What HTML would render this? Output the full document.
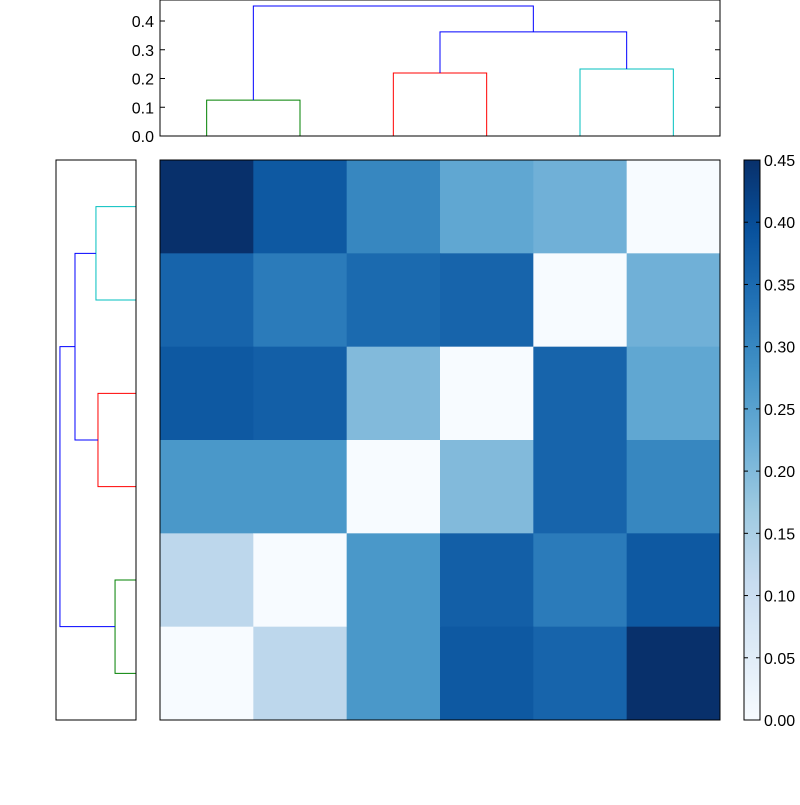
<!DOCTYPE html>
<html><head><meta charset="utf-8"><style>
body{margin:0;background:#fff}
svg text{font-family:"Liberation Sans",sans-serif;font-size:16px;fill:#000}
</style></head><body>
<svg id="c" width="800" height="800" xmlns="http://www.w3.org/2000/svg"></svg>
<script>
const matrix=[
[0.45,0.38,0.30,0.24,0.22,0.0],
[0.36,0.32,0.35,0.36,0.0,0.22],
[0.38,0.37,0.20,0.0,0.36,0.24],
[0.27,0.27,0.0,0.20,0.36,0.30],
[0.125,0.0,0.27,0.37,0.32,0.38],
[0.0,0.125,0.27,0.38,0.36,0.45]];
const topLinks=[[0,1,0,0,0.125,'#008000'],[2,3,0,0,0.219,'#ff0000'],[4,5,0,0,0.233,'#00bfbf'],[2.5,4.5,0.219,0.233,0.362,'#0000ff'],[0.5,3.5,0.125,0.362,0.452,'#0000ff']];
const leftLinks=[[0,1,0,0,0.237,'#00bfbf'],[2,3,0,0,0.225,'#ff0000'],[4,5,0,0,0.124,'#008000'],[0.5,2.5,0.237,0.225,0.361,'#0000ff'],[1.5,4.5,0.361,0.124,0.45,'#0000ff']];
const dendroTicks=[0,0.1,0.2,0.3,0.4];
const cbarTicks=[0,0.05,0.1,0.15,0.2,0.25,0.3,0.35,0.4,0.45];
const vmax=0.45;
const svg=document.getElementById('c');const NS='http://www.w3.org/2000/svg';
function mk(t,a,p){const e=document.createElementNS(NS,t);for(const k in a)e.setAttribute(k,a[k]);(p||svg).appendChild(e);return e;}
const blues=['#f7fbff','#deebf7','#c6dbef','#9ecae1','#6baed6','#4292c6','#2171b5','#08519c','#08306b'];
function hx(c){return [1,3,5].map(i=>parseInt(c.substr(i,2),16));}
function cmap(v){let t=Math.max(0,Math.min(1,v/vmax))*8;let i=Math.min(7,Math.floor(t));let f=t-i;const a=hx(blues[i]),b=hx(blues[i+1]);return 'rgb('+a.map((x,k)=>Math.round(x+(b[k]-x)*f)).join(',')+')';}
// heatmap
const HX=160,HY=160,HS=560,cell=HS/6;
matrix.forEach((row,r)=>row.forEach((v,c)=>{const e=mk('rect',{x:HX+c*cell,y:HY+r*cell,width:cell+0.5,height:cell+0.5,fill:cmap(v)});

}));
mk('rect',{x:HX,y:HY,width:HS,height:HS,fill:'none',stroke:'#000',});
// top dendrogram
const TY0=136,Tk=287.5;
const tx=i=>HX+(i+0.5)*cell, ty=h=>TY0-h*Tk;
topLinks.forEach((l,i)=>{const p=mk('polyline',{points:`${tx(l[0])},${ty(l[2])} ${tx(l[0])},${ty(l[4])} ${tx(l[1])},${ty(l[4])} ${tx(l[1])},${ty(l[3])}`,fill:'none',stroke:l[5]});

});
mk('rect',{x:160,y:0,width:560,height:136,fill:'none',stroke:'#000',});
dendroTicks.forEach(v=>{const y=ty(v);mk('line',{x1:160,x2:165,y1:y,y2:y,stroke:'#000'});mk('line',{x1:715,x2:720,y1:y,y2:y,stroke:'#000'});
const t=mk('text',{x:154,y:y+6,'text-anchor':'end'});t.textContent=v.toFixed(1);

});
// left dendrogram
const LX0=136,Lk=169;
const lx=h=>LX0-h*Lk, ly=i=>HY+(i+0.5)*cell;
leftLinks.forEach((l,i)=>{const p=mk('polyline',{points:`${lx(l[2])},${ly(l[0])} ${lx(l[4])},${ly(l[0])} ${lx(l[4])},${ly(l[1])} ${lx(l[3])},${ly(l[1])}`,fill:'none',stroke:l[5]});

});
mk('rect',{x:56,y:160,width:80,height:560,fill:'none',stroke:'#000',});
// colorbar
const CX=744,CW=16;
const grad=mk('linearGradient',{id:'g',x1:0,y1:1,x2:0,y2:0},mk('defs',{}));
blues.forEach((b,i)=>mk('stop',{offset:i/8,'stop-color':b},grad));
mk('rect',{x:CX,y:160,width:CW,height:560,fill:'url(#g)',stroke:'#000',});
cbarTicks.forEach(v=>{const y=720-v/vmax*560;mk('line',{x1:CX,x2:CX+4,y1:y,y2:y,stroke:'#000'});mk('line',{x1:CX+CW-4,x2:CX+CW,y1:y,y2:y,stroke:'#000'});
const t=mk('text',{x:764,y:y+6});t.textContent=v.toFixed(2);

});
</script>
</body></html>
